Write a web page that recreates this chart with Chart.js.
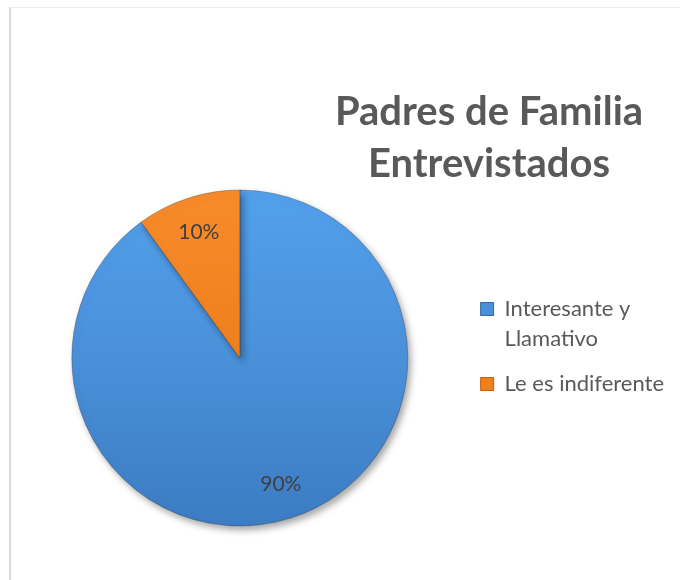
<!DOCTYPE html>
<html>
<head>
<meta charset="utf-8">
<script src="https://cdn.jsdelivr.net/npm/chart.js@4/dist/chart.umd.min.js"></script>
<style>
  html, body { margin: 0; padding: 0; background: #fff; }
  #wrap { position: relative; width: 680px; height: 580px; overflow: hidden; }
  #frame {
    position: absolute; left: 9px; top: 7px; right: 0; bottom: 0;
    border-left: 2px solid #d9d9d9; border-top: 1px solid #eeeeee;
  }
  canvas { position: absolute; left: 0; top: 0; }
</style>
</head>
<body>
<div id="wrap">
  <div id="frame"></div>
  <canvas id="grafico" width="680" height="580"></canvas>
</div>
<script>
const categorias = [["Interesante y", "Llamativo"], "Le es indiferente"];
const porcentajes = [90, 10];
const colores = ["#4a90d9", "#f07f1d"];
const tituloLineas = ["Padres de Familia", "Entrevistados"];

const fuente = "Lato, 'Open Sans', sans-serif";
const gris = "#595959";

// luz desde arriba: cada sector se aclara arriba y se oscurece abajo
const tonos = [
  ["#52a0ec", "#4a90d9", "#3b7cc2"],
  ["#f88b2a", "#f07f1d", "#dc6f10"],
];

function relleno(context) {
  const i = context.dataIndex;
  const chart = context.chart;
  const area = chart.chartArea;
  if (!area) return colores[i];
  const cy = (area.top + area.bottom) / 2;
  const r = 168;
  const g = chart.ctx.createLinearGradient(0, cy - r, 0, cy + r);
  g.addColorStop(0, tonos[i][0]);
  g.addColorStop(0.5, tonos[i][1]);
  g.addColorStop(1, tonos[i][2]);
  return g;
}

const sombraYEtiquetas = {
  id: "sombraYEtiquetas",
  beforeDatasetsDraw(chart) {
    const ctx = chart.ctx;
    ctx.save();
    ctx.shadowColor = "rgba(0,0,0,0.35)";
    ctx.shadowBlur = 7;
    ctx.shadowOffsetX = 3;
    ctx.shadowOffsetY = 4;
  },
  afterDatasetsDraw(chart) {
    const ctx = chart.ctx;
    ctx.restore();
    const meta = chart.getDatasetMeta(0);
    ctx.save();
    ctx.font = "21px " + fuente;
    ctx.fillStyle = "#404040";
    ctx.textAlign = "center";
    ctx.textBaseline = "middle";
    meta.data.forEach((arc, i) => {
      const p = arc.getProps(["x", "y", "startAngle", "endAngle", "outerRadius"], true);
      const mid = (p.startAngle + p.endAngle) / 2;
      const rr = p.outerRadius * 0.79;
      ctx.fillText(porcentajes[i] + "%", p.x + Math.cos(mid) * rr, p.y + Math.sin(mid) * rr);
    });
    ctx.restore();
  },
  afterDraw(chart) {
    const ctx = chart.ctx;
    ctx.save();
    ctx.font = "bold 40px " + fuente;
    ctx.fillStyle = gris;
    ctx.textAlign = "center";
    ctx.textBaseline = "middle";
    tituloLineas.forEach((t, i) => ctx.fillText(t, 489, 112 + i * 52));
    ctx.restore();
  }
};

new Chart(document.getElementById("grafico").getContext("2d"), {
  type: "pie",
  data: {
    labels: categorias,
    datasets: [
      {
        data: porcentajes,
        backgroundColor: relleno,
        borderColor: "rgba(40,40,40,0.3)",
        borderWidth: 1,
        radius: 168,
      },
    ],
  },
  options: {
    responsive: false,
    animation: false,
    events: [],
    layout: { padding: { left: 14, top: 190, bottom: 54, right: 6 } },
    plugins: {
      tooltip: { enabled: false },
      legend: {
        position: "right",
        align: "start",
        // espacio vacío para bajar las entradas de la leyenda
        title: { display: true, text: "", font: { size: 10, lineHeight: 1 }, padding: { top: 83, bottom: 0 } },
        labels: {
          boxWidth: 13,
          boxHeight: 13,
          padding: 15,
          color: gris,
          font: { family: fuente, size: 22, lineHeight: 1.364 },
          generateLabels(chart) {
            const items = Chart.overrides.pie.plugins.legend.labels.generateLabels(chart);
            items.forEach((it, i) => {
              it.fillStyle = colores[i];
              it.strokeStyle = i === 0 ? "#2f6aa8" : "#c0600f";
              it.lineWidth = 1;
            });
            return items;
          },
        },
      },
    },
  },
  plugins: [sombraYEtiquetas],
});
</script>
</body>
</html>
